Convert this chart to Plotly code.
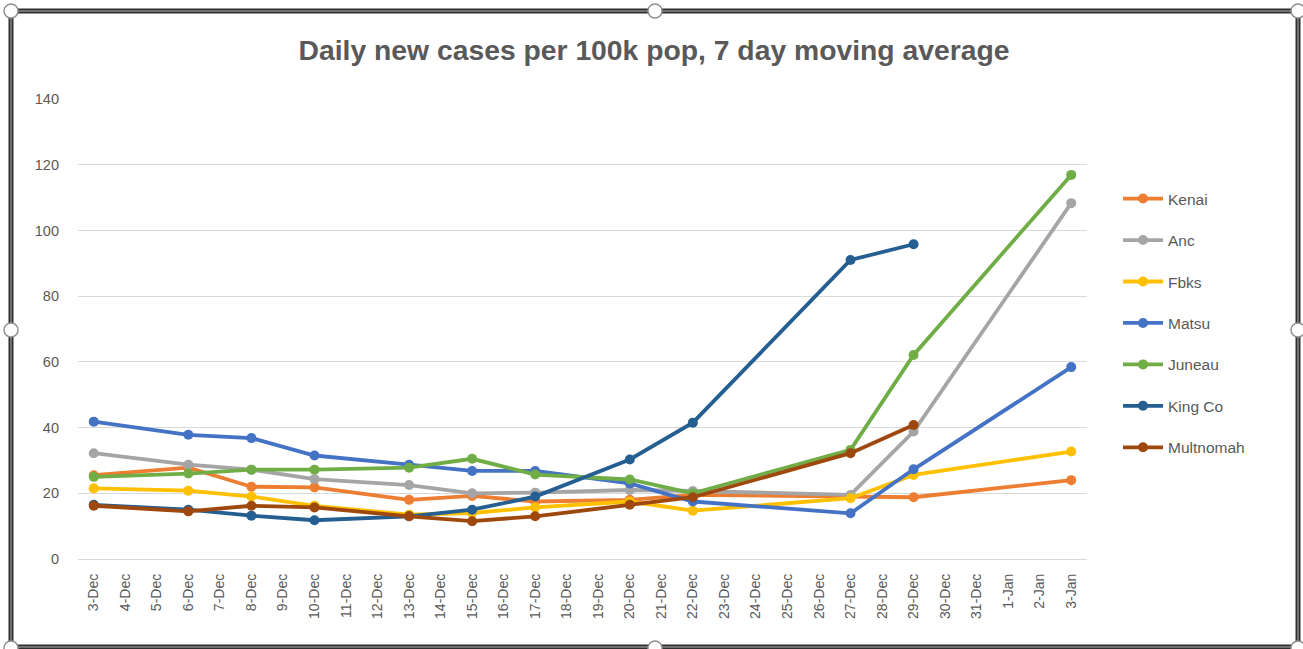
import plotly.graph_objects as go

W, H = 1303, 649

days = [f"{d}-Dec" for d in range(3, 32)] + ["1-Jan", "2-Jan", "3-Jan"]

dates_full = ["3-Dec", "6-Dec", "8-Dec", "10-Dec", "13-Dec", "15-Dec", "17-Dec",
              "20-Dec", "22-Dec", "27-Dec", "29-Dec", "3-Jan"]
dates_no_jan = dates_full[:-1]

kenai = [25.5, 27.8, 22.0, 21.8, 18.0, 19.2, 17.5, 18.0, 19.5, 19.0, 18.8, 24.0]
anc = [32.2, 28.7, 27.2, 24.3, 22.5, 20.0, 20.2, 21.0, 20.7, 19.5, 38.8, 108.3]
fbks = [21.5, 20.8, 19.0, 16.2, 13.5, 14.0, 15.7, 17.5, 14.7, 18.5, 25.6, 32.7]
matsu = [41.8, 37.8, 36.8, 31.5, 28.7, 26.8, 26.8, 23.0, 17.5, 13.9, 27.3, 58.4]
juneau = [25.0, 26.0, 27.2, 27.2, 27.8, 30.5, 25.7, 24.2, 20.0, 33.2, 62.1, 116.9]
king_co = [16.5, 15.0, 13.2, 11.8, 13.0, 15.0, 19.0, 30.3, 41.5, 91.0, 95.8]
multnomah = [16.2, 14.5, 16.2, 15.7, 13.0, 11.5, 13.0, 16.5, 18.8, 32.2, 40.8]

series = [
    ("Kenai", dates_full, kenai, "#ED7D31"),
    ("Anc", dates_full, anc, "#A5A5A5"),
    ("Fbks", dates_full, fbks, "#FFC000"),
    ("Matsu", dates_full, matsu, "#4472C4"),
    ("Juneau", dates_full, juneau, "#70AD47"),
    ("King Co", dates_no_jan, king_co, "#255E91"),
    ("Multnomah", dates_no_jan, multnomah, "#9E480E"),
]

fig = go.Figure()
for name, xs, ys, col in series:
    fig.add_trace(go.Scatter(
        x=xs, y=ys, name=name, mode="lines+markers",
        line=dict(color=col, width=3.8),
        marker=dict(color=col, size=10),
        legendgroup=name,
    ))

def px(x):
    return x / W

def py(y):
    return 1 - y / H

txt = "#595959"
fig.update_layout(
    width=W, height=H,
    margin=dict(l=0, r=0, t=0, b=0),
    paper_bgcolor="white", plot_bgcolor="white",
    font=dict(family="Liberation Sans, Arial, sans-serif", color=txt, size=13),
    title=dict(
        text="<b>Daily new cases per 100k pop, 7 day moving average</b>",
        x=px(654), y=py(50), xanchor="center", yanchor="middle",
        xref="paper", yref="paper",
        font=dict(family="Liberation Sans, sans-serif", size=28.3, color=txt),
    ),
    xaxis=dict(
        type="category", categoryorder="array", categoryarray=days,
        tickvals=days, ticktext=days,
        range=[-0.5, len(days) - 0.5],
        domain=[px(78), px(1087)],
        tickangle=-90, showgrid=False, showline=False, zeroline=False,
        tickfont=dict(size=14, color=txt), ticklabelstandoff=11,
        automargin=False,
    ),
    yaxis=dict(
        range=[0, 140], dtick=20, domain=[py(559), py(99)],
        gridcolor="#D9D9D9", gridwidth=1, zeroline=True, zerolinecolor="#D9D9D9",
        zerolinewidth=1, showline=False, tickfont=dict(size=14.5, color=txt),
        ticklabelstandoff=18, automargin=False,
    ),
    legend=dict(
        x=px(1118), y=py(182), xanchor="left", yanchor="top",
        font=dict(size=15.5, color=txt), tracegroupgap=18.3,
        bgcolor="rgba(0,0,0,0)", itemwidth=40,
    ),
    showlegend=True,
)

# Selection frame of the embedded chart
shapes = []
frame = dict(type="rect", xref="paper", yref="paper",
             x0=px(11), x1=px(1298), y0=py(647), y1=py(11))
shapes.append(dict(frame, line=dict(color="#303030", width=5)))
shapes.append(dict(frame, line=dict(color="#B0B0B0", width=1)))
handles = [(11, 11), (655, 11), (1298, 11), (11, 330), (1298, 330),
           (11, 648), (655, 648), (1298, 648)]
r = 7
for hx, hy in handles:
    shapes.append(dict(type="circle", xref="paper", yref="paper",
                       x0=px(hx - r), x1=px(hx + r), y0=py(hy + r), y1=py(hy - r),
                       fillcolor="white", line=dict(color="#909090", width=1.5)))
fig.update_layout(shapes=shapes)

fig.write_html(
    "out.html",
    config={"displayModeBar": False},
    post_script="document.body.style.margin='0';document.body.style.overflow='hidden';",
)
